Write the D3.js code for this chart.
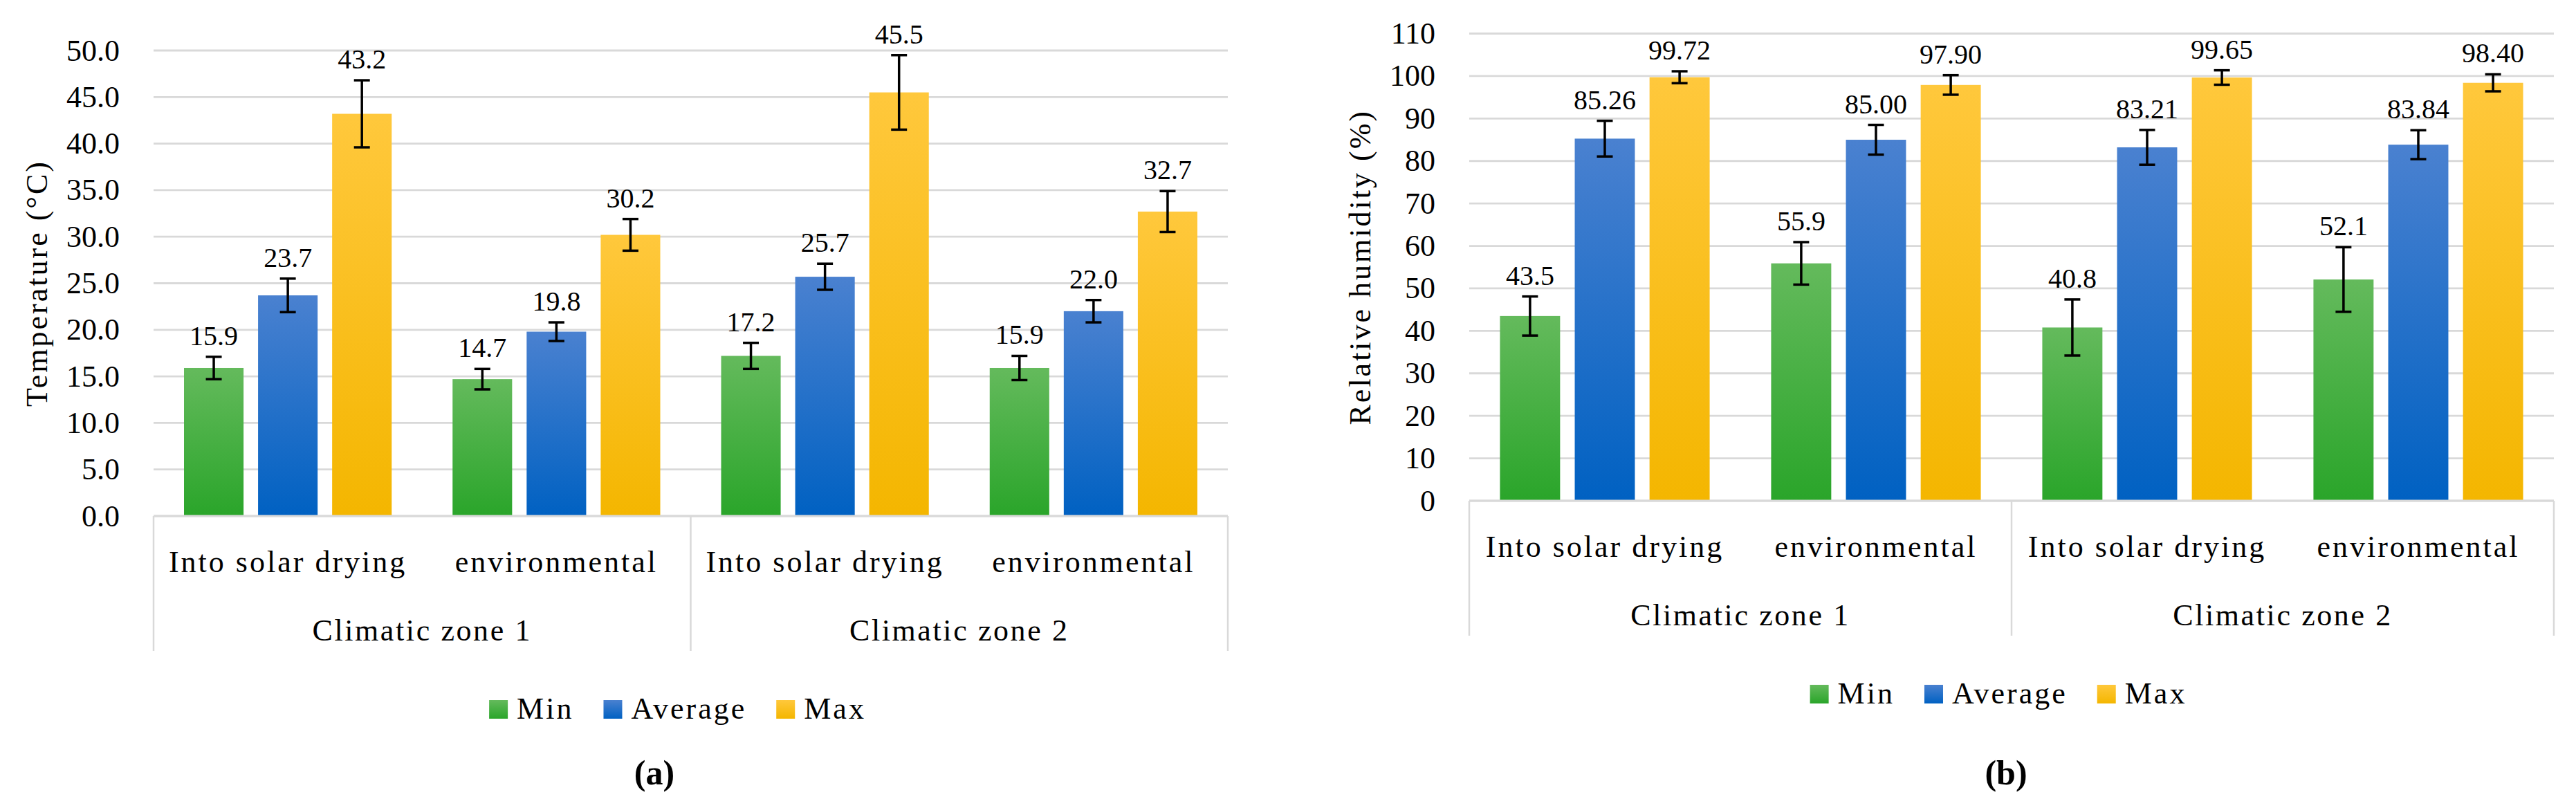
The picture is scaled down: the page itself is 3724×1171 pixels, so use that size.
<!DOCTYPE html>
<html><head><meta charset="utf-8">
<script src="https://cdn.jsdelivr.net/npm/d3@7/dist/d3.min.js"></script>
<style>
body{margin:0;background:#fff}
text{font-family:"Liberation Serif","Times New Roman",serif;fill:#000}
</style>
</head><body>
<svg id="c" width="3724" height="1171" xmlns="http://www.w3.org/2000/svg"></svg>
<script>
// ---------- data ----------
const zones = ["Climatic zone 1", "Climatic zone 2"];
const locations = ["Into solar drying", "environmental"];
const seriesNames = ["Min", "Average", "Max"];

const tempMin = [15.9, 14.7, 17.2, 15.9];
const tempAvg = [23.7, 19.8, 25.7, 22.0];
const tempMax = [43.2, 30.2, 45.5, 32.7];
const tempMinErr = [1.2, 1.1, 1.4, 1.3];
const tempAvgErr = [1.8, 1.0, 1.4, 1.2];
const tempMaxErr = [3.6, 1.7, 4.0, 2.2];
const tempTicks = [0, 5, 10, 15, 20, 25, 30, 35, 40, 45, 50];

const humMin = [43.5, 55.9, 40.8, 52.1];
const humAvg = [85.26, 85.00, 83.21, 83.84];
const humMax = [99.72, 97.90, 99.65, 98.40];
const humMinErr = [4.6, 5.0, 6.6, 7.6];
const humAvgErr = [4.2, 3.5, 4.1, 3.4];
const humMaxErr = [1.4, 2.3, 1.7, 2.0];
const humTicks = [0, 10, 20, 30, 40, 50, 60, 70, 80, 90, 100, 110];

const colors = [
  ["#64BA5C", "#2AA52A"],  // Min
  ["#4A81D0", "#0061C2"],  // Average
  ["#FFC83C", "#F4B600"]   // Max
];

// ---------- drawing ----------
const svg = d3.select("#c");
svg.append("rect").attr("width", 3724).attr("height", 1171).attr("fill", "#fff");
const defs = svg.append("defs");
seriesNames.forEach((s, i) => {
  const g = defs.append("linearGradient").attr("id", "g" + i)
    .attr("x1", 0).attr("y1", 0).attr("x2", 0).attr("y2", 1);
  g.append("stop").attr("offset", "0%").attr("stop-color", colors[i][0]);
  g.append("stop").attr("offset", "100%").attr("stop-color", colors[i][1]);
});

function chart(cfg) {
  const g = svg.append("g");
  const cats = [];
  zones.forEach((z, zi) => locations.forEach(l => cats.push(zi + "|" + l)));

  const x0 = d3.scaleBand().domain(cats).range([cfg.left, cfg.right]).paddingInner(0).paddingOuter(0);
  const x1 = d3.scaleBand().domain(seriesNames).range([0, x0.bandwidth()])
    .paddingInner(0.196).paddingOuter(0.411);
  const y = d3.scaleLinear().domain([0, cfg.ticks[cfg.ticks.length - 1]]).range([cfg.bottom, cfg.top]);

  // gridlines
  g.selectAll("line.grid").data(cfg.ticks).join("line")
    .attr("x1", cfg.left).attr("x2", cfg.right)
    .attr("y1", d => y(d)).attr("y2", d => y(d))
    .attr("stroke", "#D9D9D9").attr("stroke-width", 2.8);

  // y axis labels
  const ax = d3.axisLeft(y).tickValues(cfg.ticks).tickSize(0).tickPadding(49).tickFormat(cfg.tickFmt);
  const axg = g.append("g").attr("transform", `translate(${cfg.left},0)`).call(ax);
  axg.select(".domain").remove();
  axg.selectAll("text").attr("font-size", 44).attr("dy", 14)
    .attr("font-family", '"Liberation Serif",serif').attr("fill", "#000");

  // y title
  g.append("text")
    .attr("transform", `translate(${cfg.titleX},${(cfg.top + cfg.bottom) / 2}) rotate(-90)`)
    .attr("text-anchor", "middle").attr("font-size", 44).attr("letter-spacing", 3)
    .text(cfg.yTitle);

  // bars
  const data = [];
  cats.forEach((c, ci) => seriesNames.forEach((s, si) => {
    data.push({c, s, si, v: cfg.values[si][ci], e: cfg.errs[si][ci]});
  }));
  g.selectAll("rect.bar").data(data).join("rect")
    .attr("x", d => x0(d.c) + x1(d.s))
    .attr("width", x1.bandwidth())
    .attr("y", d => y(d.v))
    .attr("height", d => y(0) - y(d.v))
    .attr("fill", d => `url(#g${d.si})`);

  // error bars
  const eb = g.selectAll("g.err").data(data).join("g")
    .attr("transform", d => `translate(${x0(d.c) + x1(d.s) + x1.bandwidth() / 2},0)`);
  eb.append("line").attr("y1", d => y(d.v + d.e)).attr("y2", d => y(d.v - d.e))
    .attr("stroke", "#000").attr("stroke-width", 3.5);
  eb.append("line").attr("x1", -11.5).attr("x2", 11.5)
    .attr("y1", d => y(d.v + d.e)).attr("y2", d => y(d.v + d.e))
    .attr("stroke", "#000").attr("stroke-width", 3.5);
  eb.append("line").attr("x1", -11.5).attr("x2", 11.5)
    .attr("y1", d => y(d.v - d.e)).attr("y2", d => y(d.v - d.e))
    .attr("stroke", "#000").attr("stroke-width", 3.5);

  // data labels
  g.selectAll("text.lbl").data(data).join("text")
    .attr("x", d => x0(d.c) + x1(d.s) + x1.bandwidth() / 2)
    .attr("y", d => y(d.v + d.e) - 17)
    .attr("text-anchor", "middle").attr("font-size", 40)
    .text(d => d.v.toFixed(cfg.decimals[d.si]));

  // category axis box
  const boxBottom = cfg.bottom + 195;
  g.append("line").attr("x1", cfg.left).attr("x2", cfg.right)
    .attr("y1", y(0)).attr("y2", y(0)).attr("stroke", "#D9D9D9").attr("stroke-width", 2.8);
  const zoneEdges = [cfg.left, x0(cats[2]), cfg.right];
  g.selectAll("line.zb").data(zoneEdges).join("line")
    .attr("x1", d => d).attr("x2", d => d).attr("y1", y(0)).attr("y2", boxBottom)
    .attr("stroke", "#D9D9D9").attr("stroke-width", 2.5);

  g.selectAll("text.cat").data(cats).join("text")
    .attr("x", d => x0(d) + x0.bandwidth() / 2)
    .attr("y", cfg.bottom + 81)
    .attr("text-anchor", "middle").attr("font-size", 44).attr("letter-spacing", 3)
    .text(d => d.split("|")[1]);
  g.selectAll("text.zone").data(zones).join("text")
    .attr("x", (d, i) => (zoneEdges[i] + zoneEdges[i + 1]) / 2)
    .attr("y", cfg.bottom + 180)
    .attr("text-anchor", "middle").attr("font-size", 44).attr("letter-spacing", 2.6)
    .text(d => d);

  // legend
  const lg = g.append("g");
  const ly = cfg.bottom + 266;
  let cx = 0;
  const items = [];
  seriesNames.forEach((s, i) => {
    const it = lg.append("g");
    it.append("rect").attr("x", 0).attr("y", ly).attr("width", 27).attr("height", 27)
      .attr("fill", `url(#g${i})`);
    const t = it.append("text").attr("x", 40).attr("y", ly + 27).attr("font-size", 44)
      .attr("letter-spacing", 3).text(s);
    const w = 40 + t.node().getComputedTextLength();
    it.attr("transform", `translate(${cx},0)`);
    items.push(it);
    cx += w + 43;
  });
  const total = cx - 43;
  const lcx = (cfg.left + cfg.right) / 2 - 19;
  lg.attr("transform", `translate(${lcx - total / 2},0)`);

  // panel caption
  g.append("text").attr("x", cfg.capX).attr("y", 1134)
    .attr("text-anchor", "middle").attr("font-size", 50).attr("font-weight", "bold")
    .text(cfg.caption);
}

chart({
  left: 222, right: 1775, top: 73, bottom: 746,
  ticks: tempTicks, tickFmt: d3.format(".1f"),
  values: [tempMin, tempAvg, tempMax], errs: [tempMinErr, tempAvgErr, tempMaxErr],
  decimals: [1, 1, 1],
  yTitle: "Temperature (°C)", titleX: 68,
  caption: "(a)", capX: 946
});
chart({
  left: 2124, right: 3692, top: 48.5, bottom: 724,
  ticks: humTicks, tickFmt: d3.format("d"),
  values: [humMin, humAvg, humMax], errs: [humMinErr, humAvgErr, humMaxErr],
  decimals: [1, 2, 2],
  yTitle: "Relative humidity (%)", titleX: 1981,
  caption: "(b)", capX: 2900
});
</script>
</body></html>
